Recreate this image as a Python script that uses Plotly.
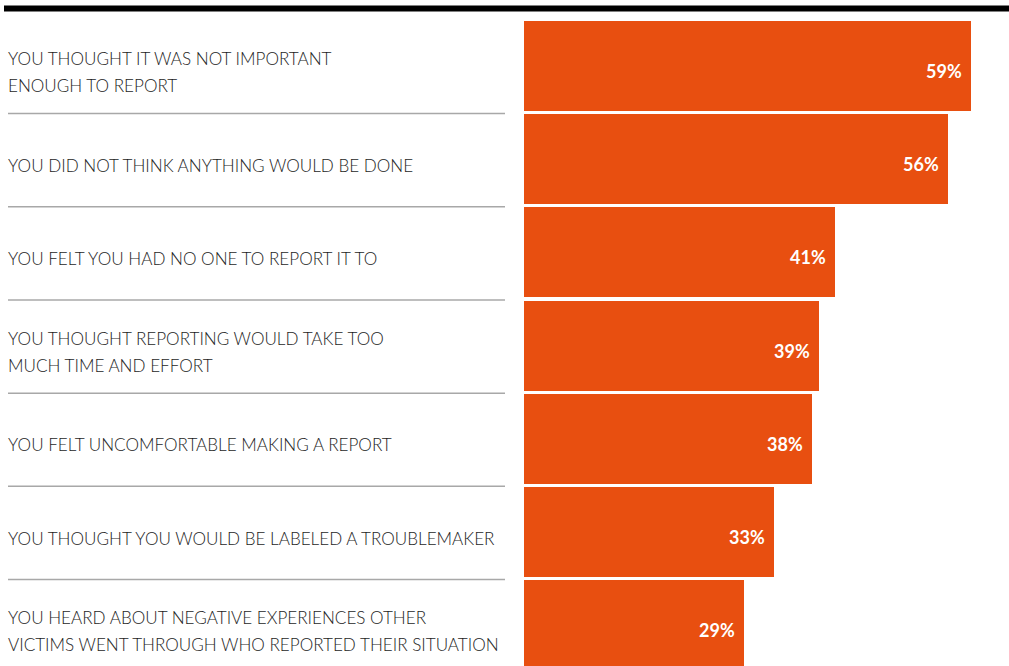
import plotly.graph_objects as go

categories = [
    "YOU THOUGHT IT WAS NOT IMPORTANT\nENOUGH TO REPORT",
    "YOU DID NOT THINK ANYTHING WOULD BE DONE",
    "YOU FELT YOU HAD NO ONE TO REPORT IT TO",
    "YOU THOUGHT REPORTING WOULD TAKE TOO\nMUCH TIME AND EFFORT",
    "YOU FELT UNCOMFORTABLE MAKING A REPORT",
    "YOU THOUGHT YOU WOULD BE LABELED A TROUBLEMAKER",
    "YOU HEARD ABOUT NEGATIVE EXPERIENCES OTHER\nVICTIMS WENT THROUGH WHO REPORTED THEIR SITUATION",
]
values = [59, 56, 41, 39, 38, 33, 29]
value_labels = ["59%", "56%", "41%", "39%", "38%", "33%", "29%"]

W, H = 1009, 666
BAR_COLOR = "#E84F10"
TEXT_COLOR = "#1e1e1e"
FONT = "Lato"

# pixel geometry
x0_px = 524.0
px_per_unit = 7.576
pitch = 93.2
center0 = 66.0

xrange = [(0 - x0_px) / px_per_unit, (W - x0_px) / px_per_unit]
yrange = [(H - center0) / pitch, (0 - center0) / pitch]

ypos = list(range(len(values)))

fig = go.Figure()
fig.add_trace(go.Bar(
    x=values, y=ypos, orientation="h",
    width=0.965, marker=dict(color=BAR_COLOR, line=dict(width=0)),
    hoverinfo="skip", showlegend=False,
))

annotations = []
for i, (cat, v, lab) in enumerate(zip(categories, values, value_labels)):
    lines = cat.split("\n")
    n = len(lines)
    for j, line in enumerate(lines):
        annotations.append(dict(
            x=8 / W, xref="paper", y=i, yref="y",
            text=line, showarrow=False, xanchor="left", yanchor="middle",
            xshift=-2,
            yshift=-6 - (j - (n - 1) / 2) * 27,
            font=dict(family=FONT, size=17.1, color=TEXT_COLOR, weight=300),
        ))
    annotations.append(dict(
        x=v, xref="x", y=i, yref="y", text=lab, showarrow=False,
        xanchor="right", yanchor="middle", xshift=-7, yshift=-5,
        font=dict(family=FONT, size=18, color="white", weight="bold"),
    ))

shapes = [dict(type="rect", xref="paper", yref="paper",
               x0=4 / W, x1=1, y0=1 - 11.5 / H, y1=1 - 5.5 / H,
               fillcolor="black", line=dict(width=0))]
for i in range(len(values) - 1):
    shapes.append(dict(type="line", xref="paper", yref="y",
                       x0=8 / W, x1=505 / W, y0=i + 0.51, y1=i + 0.51,
                       line=dict(color="#a8a8a8", width=1.5)))

fig.update_layout(
    width=W, height=H,
    margin=dict(l=0, r=0, t=0, b=0),
    paper_bgcolor="white", plot_bgcolor="white",
    xaxis=dict(range=xrange, visible=False, fixedrange=True),
    yaxis=dict(range=yrange, visible=False, fixedrange=True),
    annotations=annotations, shapes=shapes,
    bargap=0,
)

fig.write_html("out.html")
